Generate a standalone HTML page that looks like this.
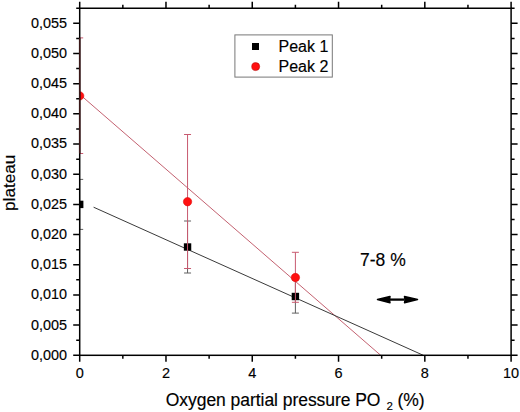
<!DOCTYPE html><html><head><meta charset="utf-8"><style>html,body{margin:0;padding:0;background:#fff;}svg{display:block;}text{font-family:"Liberation Sans",sans-serif;stroke:#000;stroke-width:0.15px;}</style></head><body>
<svg width="520" height="412" viewBox="0 0 520 412">
<rect width="520" height="412" fill="#fff"/>
<line x1="79.70" y1="94.35" x2="380.7" y2="355.30" stroke="#c05868" stroke-width="0.95"/>
<line x1="93.6" y1="207.2" x2="423.3" y2="355.30" stroke="#3a3a3a" stroke-width="1"/>
<line x1="79.70" y1="179.40" x2="79.70" y2="229.40" stroke="#606060" stroke-width="1"/><line x1="76.20" y1="179.40" x2="83.20" y2="179.40" stroke="#606060" stroke-width="1"/><line x1="76.20" y1="229.40" x2="83.20" y2="229.40" stroke="#606060" stroke-width="1"/>
<line x1="187.55" y1="221.00" x2="187.55" y2="273.00" stroke="#606060" stroke-width="1"/><line x1="184.05" y1="221.00" x2="191.05" y2="221.00" stroke="#606060" stroke-width="1"/><line x1="184.05" y1="273.00" x2="191.05" y2="273.00" stroke="#606060" stroke-width="1"/>
<line x1="295.40" y1="279.90" x2="295.40" y2="313.10" stroke="#606060" stroke-width="1"/><line x1="291.90" y1="279.90" x2="298.90" y2="279.90" stroke="#606060" stroke-width="1"/><line x1="291.90" y1="313.10" x2="298.90" y2="313.10" stroke="#606060" stroke-width="1"/>
<rect x="76.00" y="200.70" width="7.4" height="7.4" fill="#000"/>
<rect x="183.85" y="243.30" width="7.4" height="7.4" fill="#000"/>
<rect x="291.70" y="292.80" width="7.4" height="7.4" fill="#000"/>
<line x1="79.70" y1="37.90" x2="79.70" y2="153.50" stroke="#c85a70" stroke-width="1"/><line x1="76.20" y1="37.90" x2="83.20" y2="37.90" stroke="#c85a70" stroke-width="1"/><line x1="76.20" y1="153.50" x2="83.20" y2="153.50" stroke="#c85a70" stroke-width="1"/>
<line x1="187.55" y1="134.50" x2="187.55" y2="268.50" stroke="#c85a70" stroke-width="1"/><line x1="184.05" y1="134.50" x2="191.05" y2="134.50" stroke="#c85a70" stroke-width="1"/><line x1="184.05" y1="268.50" x2="191.05" y2="268.50" stroke="#c85a70" stroke-width="1"/>
<line x1="295.40" y1="252.30" x2="295.40" y2="302.30" stroke="#c85a70" stroke-width="1"/><line x1="291.90" y1="252.30" x2="298.90" y2="252.30" stroke="#c85a70" stroke-width="1"/><line x1="291.90" y1="302.30" x2="298.90" y2="302.30" stroke="#c85a70" stroke-width="1"/>
<circle cx="79.70" cy="95.90" r="4.2" fill="#ff1010" stroke="#d80000" stroke-width="0.5"/>
<circle cx="187.55" cy="201.70" r="4.2" fill="#ff1010" stroke="#d80000" stroke-width="0.5"/>
<circle cx="295.40" cy="277.50" r="4.2" fill="#ff1010" stroke="#d80000" stroke-width="0.5"/>
<rect x="0" y="0" width="79.70" height="412" fill="#fff"/>
<rect x="79.70" y="8.25" width="431.40" height="347.05" fill="none" stroke="#000" stroke-width="1.5"/>
<path d="M79.70 355.30h-6.5M511.10 355.30h6.5M79.70 340.21h-3.5M511.10 340.21h3.5M79.70 325.12h-6.5M511.10 325.12h6.5M79.70 310.03h-3.5M511.10 310.03h3.5M79.70 294.94h-6.5M511.10 294.94h6.5M79.70 279.85h-3.5M511.10 279.85h3.5M79.70 264.76h-6.5M511.10 264.76h6.5M79.70 249.68h-3.5M511.10 249.68h3.5M79.70 234.59h-6.5M511.10 234.59h6.5M79.70 219.50h-3.5M511.10 219.50h3.5M79.70 204.41h-6.5M511.10 204.41h6.5M79.70 189.32h-3.5M511.10 189.32h3.5M79.70 174.23h-6.5M511.10 174.23h6.5M79.70 159.14h-3.5M511.10 159.14h3.5M79.70 144.05h-6.5M511.10 144.05h6.5M79.70 128.96h-3.5M511.10 128.96h3.5M79.70 113.87h-6.5M511.10 113.87h6.5M79.70 98.78h-3.5M511.10 98.78h3.5M79.70 83.69h-6.5M511.10 83.69h6.5M79.70 68.60h-3.5M511.10 68.60h3.5M79.70 53.51h-6.5M511.10 53.51h6.5M79.70 38.43h-3.5M511.10 38.43h3.5M79.70 23.34h-6.5M511.10 23.34h6.5M79.70 8.25h-3.5M511.10 8.25h3.5M79.70 355.30v6.5M79.70 8.25v-6.5M122.84 355.30v3.5M122.84 8.25v-3.5M165.98 355.30v6.5M165.98 8.25v-6.5M209.12 355.30v3.5M209.12 8.25v-3.5M252.26 355.30v6.5M252.26 8.25v-6.5M295.40 355.30v3.5M295.40 8.25v-3.5M338.54 355.30v6.5M338.54 8.25v-6.5M381.68 355.30v3.5M381.68 8.25v-3.5M424.82 355.30v6.5M424.82 8.25v-6.5M467.96 355.30v3.5M467.96 8.25v-3.5M511.10 355.30v6.5M511.10 8.25v-6.5" stroke="#000" stroke-width="1.5" fill="none"/>
<line x1="79.70" y1="37.9" x2="79.70" y2="153.5" stroke="#3a1818" stroke-width="1.5"/>
<text x="67.1" y="359.70" font-size="14.4" text-anchor="end">0,000</text>
<text x="67.1" y="329.52" font-size="14.4" text-anchor="end">0,005</text>
<text x="67.1" y="299.34" font-size="14.4" text-anchor="end">0,010</text>
<text x="67.1" y="269.16" font-size="14.4" text-anchor="end">0,015</text>
<text x="67.1" y="238.99" font-size="14.4" text-anchor="end">0,020</text>
<text x="67.1" y="208.81" font-size="14.4" text-anchor="end">0,025</text>
<text x="67.1" y="178.63" font-size="14.4" text-anchor="end">0,030</text>
<text x="67.1" y="148.45" font-size="14.4" text-anchor="end">0,035</text>
<text x="67.1" y="118.27" font-size="14.4" text-anchor="end">0,040</text>
<text x="67.1" y="88.09" font-size="14.4" text-anchor="end">0,045</text>
<text x="67.1" y="57.91" font-size="14.4" text-anchor="end">0,050</text>
<text x="67.1" y="27.74" font-size="14.4" text-anchor="end">0,055</text>
<text x="79.70" y="378.3" font-size="14.5" text-anchor="middle">0</text>
<text x="165.98" y="378.3" font-size="14.5" text-anchor="middle">2</text>
<text x="252.26" y="378.3" font-size="14.5" text-anchor="middle">4</text>
<text x="338.54" y="378.3" font-size="14.5" text-anchor="middle">6</text>
<text x="424.82" y="378.3" font-size="14.5" text-anchor="middle">8</text>
<text x="511.10" y="378.3" font-size="14.5" text-anchor="middle">10</text>
<text x="165.8" y="405.9" font-size="17.5" letter-spacing="-0.05">Oxygen partial pressure PO</text><text x="386.4" y="409.9" font-size="11.5">2</text><text x="397.4" y="405.9" font-size="17.5">(%)</text>
<text transform="translate(14.7,211) rotate(-90)" font-size="17.2">plateau</text>
<rect x="234.9" y="34.9" width="97.4" height="42.2" fill="#fff" stroke="#777" stroke-width="1"/>
<rect x="252" y="43" width="7" height="7" fill="#000"/>
<circle cx="255.7" cy="66.6" r="4" fill="#ff1010" stroke="#a00" stroke-width="0.5"/>
<text x="278.5" y="51.5" font-size="16">Peak 1</text>
<text x="278.5" y="71.5" font-size="16">Peak 2</text>
<text x="360" y="266.3" font-size="17.5">7-8 %</text>
<path d="M390 299.6H404.5" stroke="#000" stroke-width="2.3"/>
<path d="M377.5 299.6L390 296.5Q389 299.6 390 302.7Z M417.5 299.6L404.5 296.5Q405.5 299.6 404.5 302.7Z" fill="#000" stroke="#000" stroke-width="1.5" stroke-linejoin="round"/>
</svg></body></html>
